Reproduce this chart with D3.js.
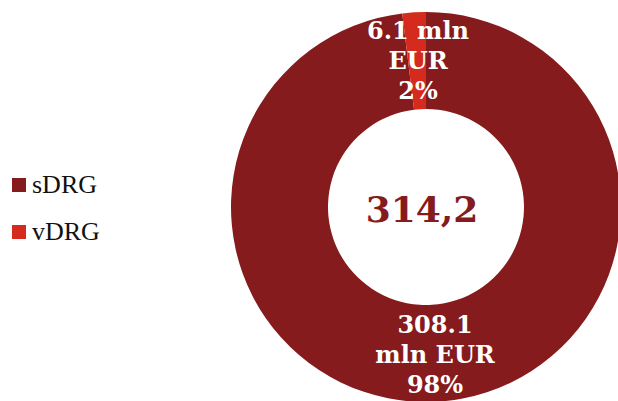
<!DOCTYPE html>
<html><head><meta charset="utf-8">
<script src="https://cdn.jsdelivr.net/npm/d3@7"></script>
<style>body{margin:0;background:#fff}svg{display:block}</style>
</head><body>
<svg id="c" width="618" height="401"></svg>
<script>
const categories = ["sDRG", "vDRG"];
const values = [308.1, 6.1];
const colors = ["#851B1C", "#D52B1E"];
const sliceLabels = [["308.1", "mln EUR", "98%"], ["6.1 mln", "EUR", "2%"]];
const totalLabel = "314,2";

const svg = d3.select("#c");
const cx = 426, cy = 207, rOuter = 195, rInner = 98;
const g = svg.append("g").attr("transform", `translate(${cx},${cy})`);
const pie = d3.pie().sort(null).value(d => d)(values);
const arc = d3.arc().innerRadius(rInner).outerRadius(rOuter);
g.selectAll("path").data(pie).join("path")
  .attr("d", arc).attr("fill", (d, i) => colors[i]);

const serif = "'DejaVu Serif', serif";
// slice labels
const labelPos = [[9, 126], [-8, -168]];
pie.forEach((d, i) => {
  const t = g.append("text").attr("text-anchor", "middle")
    .attr("font-family", serif).attr("font-weight", "bold")
    .attr("font-size", 24).attr("fill", "#fff");
  sliceLabels[i].forEach((s, j) => {
    t.append("tspan").attr("x", labelPos[i][0]).attr("y", labelPos[i][1] + j * 30).text(s);
  });
});

g.append("text").attr("text-anchor", "middle").attr("x", -4).attr("y", 15)
  .attr("font-family", serif).attr("font-weight", "bold").attr("font-size", 36)
  .attr("fill", "#851B1C").text(totalLabel);

// legend
const leg = svg.append("g");
categories.forEach((c, i) => {
  const y = 178 + i * 47;
  leg.append("rect").attr("x", 12).attr("y", y).attr("width", 14).attr("height", 14).attr("fill", colors[i]);
  leg.append("text").attr("x", 32).attr("y", y + 15)
    .attr("font-family", "'Liberation Serif', serif").attr("font-size", 26)
    .attr("fill", "#111").text(c);
});
</script>
</body></html>
